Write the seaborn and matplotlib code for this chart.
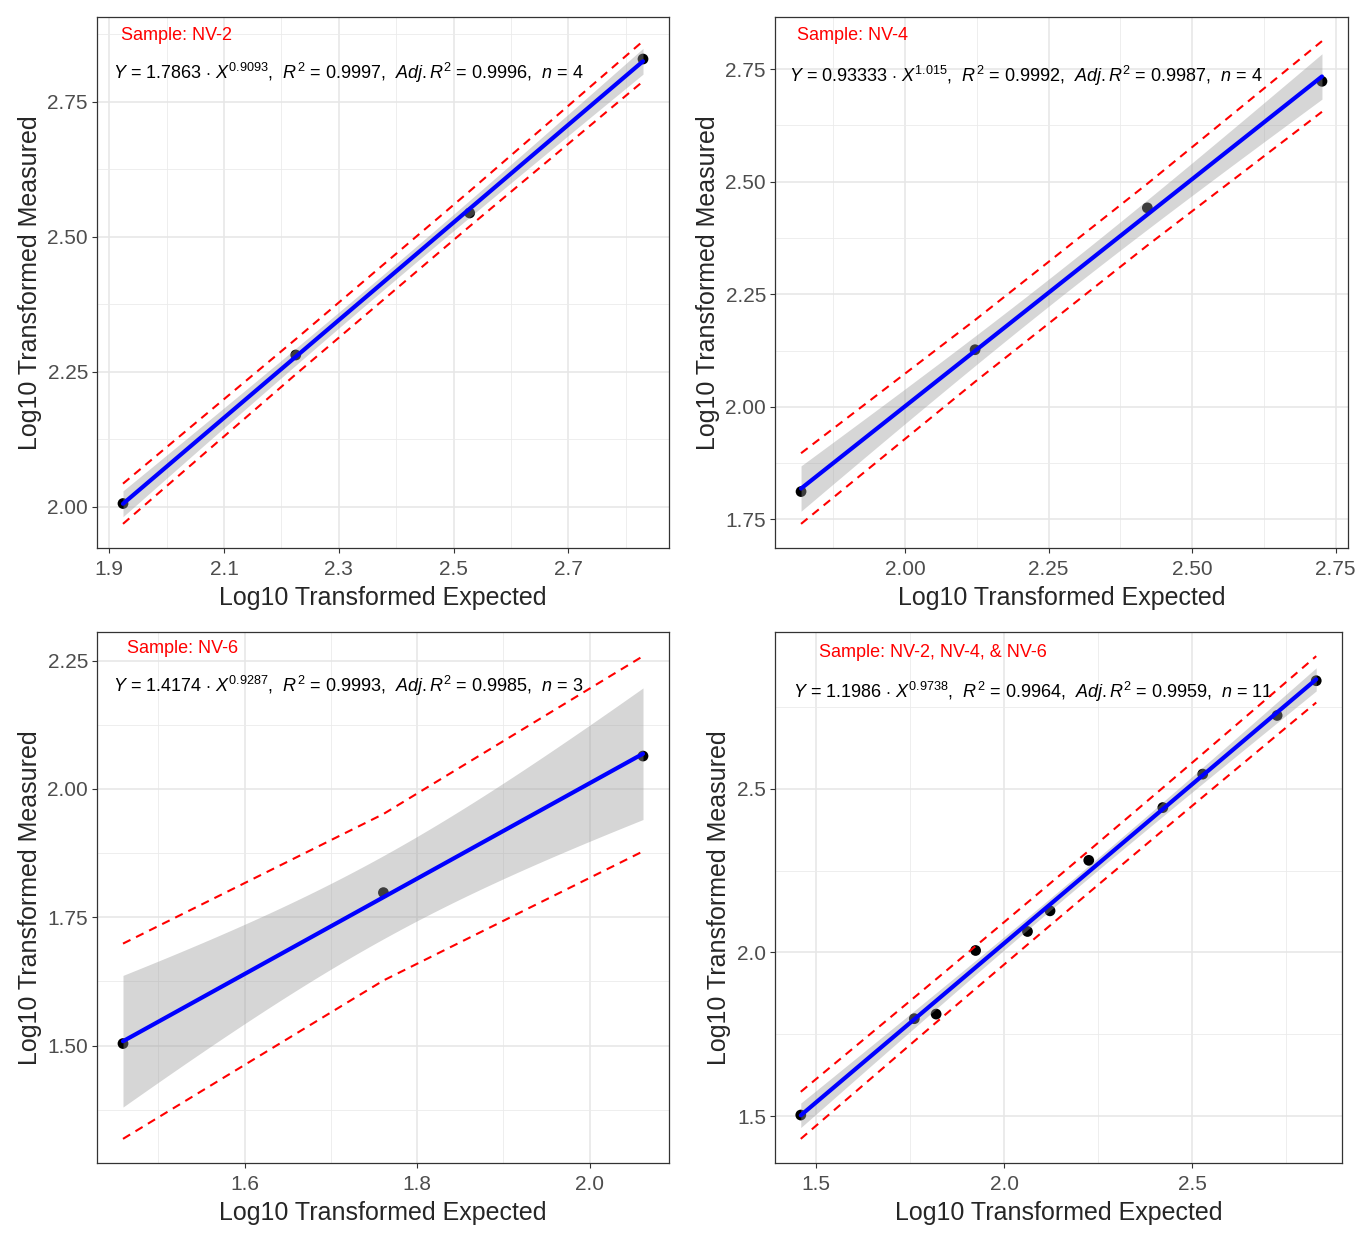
import numpy as np
import matplotlib
matplotlib.use("Agg")
import matplotlib.pyplot as plt
import seaborn as sns
from matplotlib.ticker import MultipleLocator, FormatStrFormatter

nv2_expected = [1.924, 2.225, 2.528, 2.830]
nv2_measured = [2.006, 2.281, 2.544, 2.829]
nv4_expected = [1.819, 2.122, 2.422, 2.726]
nv4_measured = [1.812, 2.127, 2.442, 2.723]
nv6_expected = [1.459, 1.761, 2.062]
nv6_measured = [1.504, 1.798, 2.064]
all_expected = nv2_expected + nv4_expected + nv6_expected
all_measured = nv2_measured + nv4_measured + nv6_measured

sample_labels = ["Sample: NV-2", "Sample: NV-4", "Sample: NV-6",
                 "Sample: NV-2, NV-4, & NV-6"]
eq_labels = [
    r"$Y$ = 1.7863 $\cdot$ $X^{0.9093}$,  $R^2$ = 0.9997,  $Adj.R^2$ = 0.9996,  $n$ = 4",
    r"$Y$ = 0.93333 $\cdot$ $X^{1.015}$,  $R^2$ = 0.9992,  $Adj.R^2$ = 0.9987,  $n$ = 4",
    r"$Y$ = 1.4174 $\cdot$ $X^{0.9287}$,  $R^2$ = 0.9993,  $Adj.R^2$ = 0.9985,  $n$ = 3",
    r"$Y$ = 1.1986 $\cdot$ $X^{0.9738}$,  $R^2$ = 0.9964,  $Adj.R^2$ = 0.9959,  $n$ = 11",
]
# 95% two-sided t quantiles by residual degrees of freedom
T95 = {1: 12.706, 2: 4.303, 9: 2.262}

sns.set_style("ticks")
plt.rcParams['font.family'] = ['Liberation Sans', 'DejaVu Sans']
plt.rcParams['mathtext.fontset'] = 'custom'
plt.rcParams['mathtext.rm'] = 'Liberation Sans'
plt.rcParams['mathtext.it'] = 'Liberation Sans:italic'


def fit_bands(x, y):
    x = np.asarray(x)
    y = np.asarray(y)
    n = len(x)
    slope, icpt = np.polyfit(x, y, 1)
    resid = y - (icpt + slope * x)
    s = np.sqrt(np.sum(resid ** 2) / (n - 2))
    sxx = np.sum((x - x.mean()) ** 2)
    t = T95[n - 2]
    grid = np.linspace(x.min(), x.max(), 80)
    fit = icpt + slope * grid
    se = s * np.sqrt(1 / n + (grid - x.mean()) ** 2 / sxx)
    xs = np.sort(x)
    pfit = icpt + slope * xs
    pse = s * np.sqrt(1 + 1 / n + (xs - x.mean()) ** 2 / sxx)
    return grid, fit, fit - t * se, fit + t * se, xs, pfit - t * pse, pfit + t * pse


fig = plt.figure(figsize=(13.72, 12.39), dpi=100)
W, H = 1372, 1239
boxes = [(97, 17, 669, 548), (775, 17, 1348, 548),
         (97, 632, 669, 1163), (775, 632, 1342, 1163)]
datasets = [(nv2_expected, nv2_measured), (nv4_expected, nv4_measured),
            (nv6_expected, nv6_measured), (all_expected, all_measured)]
# (step, offset) for major x ticks
xsteps = [(0.2, 0.1), (0.25, 0.0), (0.2, 0.0), (0.5, 0.0)]
ysteps = [0.25, 0.25, 0.25, 0.5]
xfmt = ['%.1f', '%.2f', '%.1f', '%.1f']
yfmt = ['%.2f', '%.2f', '%.2f', '%.1f']
sample_pos = [(0.042, 0.966), (0.038, 0.966), (0.052, 0.968), (0.078, 0.962)]
eq_pos = [(0.028, 0.895), (0.024, 0.889), (0.028, 0.898), (0.032, 0.887)]

for i, (l, t, r, b) in enumerate(boxes):
    ax = fig.add_axes([l / W, 1 - b / H, (r - l) / W, (b - t) / H])
    x, y = datasets[i]
    grid, fit, lo, hi, xs, plo, phi = fit_bands(x, y)

    sns.scatterplot(x=x, y=y, ax=ax, color='black', s=60, edgecolor='none', zorder=2)
    ax.fill_between(grid, lo, hi, color='#999999', alpha=0.4, linewidth=0, zorder=3)
    sns.lineplot(x=grid, y=fit, ax=ax, color='blue', linewidth=3.0, zorder=4)
    for band in (plo, phi):
        sns.lineplot(x=xs, y=band, ax=ax, color='red', linewidth=1.5,
                     dashes=(4, 3), zorder=5)

    step, off = xsteps[i]
    ax.xaxis.set_major_locator(MultipleLocator(step, offset=off))
    ax.xaxis.set_minor_locator(MultipleLocator(step / 2))
    ax.yaxis.set_major_locator(MultipleLocator(ysteps[i]))
    ax.yaxis.set_minor_locator(MultipleLocator(ysteps[i] / 2))
    ax.xaxis.set_major_formatter(FormatStrFormatter(xfmt[i]))
    ax.yaxis.set_major_formatter(FormatStrFormatter(yfmt[i]))
    ax.margins(0.05)
    ax.set_axisbelow(True)
    ax.grid(which='major', color='#E6E6E6', linewidth=1.1)
    ax.grid(which='minor', color='#EBEBEB', linewidth=0.6)
    ax.tick_params(which='major', length=3.5, width=0.8, color='#333333',
                   labelcolor='#4D4D4D', labelsize=15, pad=3)
    ax.tick_params(axis='x', which='major', pad=5)
    ax.tick_params(which='minor', length=0)
    for sp in ax.spines.values():
        sp.set_color('#333333')
        sp.set_linewidth(0.9)

    ax.set_xlabel('Log10 Transformed Expected', fontsize=18, labelpad=5)
    ax.set_ylabel('Log10 Transformed Measured', fontsize=18, labelpad=4)

    ax.text(*sample_pos[i], sample_labels[i], transform=ax.transAxes,
            color='red', fontsize=13, ha='left', va='center')
    ax.text(*eq_pos[i], eq_labels[i], transform=ax.transAxes,
            color='black', fontsize=13, ha='left', va='center')

fig.savefig('out.png', dpi=100)
